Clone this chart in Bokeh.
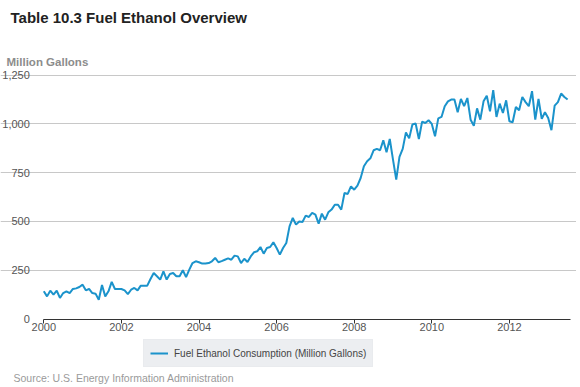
from bokeh.plotting import figure
from bokeh.models import (Range1d, FixedTicker, NumeralTickFormatter, Label,
                          Legend, LegendItem, ColumnDataSource)
from bokeh.embed import file_html
from bokeh.resources import INLINE

# Monthly fuel ethanol consumption (million gallons), Jan 2000 onward
v2000 = [142, 116, 145, 125, 145, 108, 133, 142, 133, 154, 157, 164]
v2001 = [176, 147, 154, 133, 130, 99, 174, 116, 142, 190, 154, 154]
v2002 = [154, 147, 128, 150, 159, 147, 171, 171, 171, 205, 236, 219]
v2003 = [202, 244, 202, 231, 236, 219, 219, 250, 215, 253, 287, 296]
v2004 = [291, 284, 284, 287, 296, 313, 291, 297, 304, 311, 304, 325]
v2005 = [321, 287, 309, 292, 321, 342, 347, 369, 335, 364, 369, 393]
v2006 = [364, 330, 364, 390, 475, 518, 484, 500, 497, 530, 523, 544]
v2007 = [535, 489, 540, 509, 547, 561, 586, 586, 561, 646, 641, 680]
v2008 = [663, 684, 723, 783, 809, 824, 865, 872, 865, 916, 855, 923]
v2009 = [817, 715, 831, 872, 957, 926, 997, 1002, 923, 1012, 1005, 1019]
v2010 = [1000, 937, 1029, 1036, 1091, 1116, 1125, 1125, 1060, 1128, 1091, 1133]
v2011 = [1022, 991, 1080, 1022, 1116, 1145, 1065, 1173, 1036, 1104, 1056, 1121]
v2012 = [1014, 1009, 1087, 1070, 1138, 1112, 1091, 1168, 1022, 1128, 1026, 1060]
v2013 = [1031, 968, 1094, 1112, 1156, 1138, 1125]

start_year = 2000
x_ticks = [2000, 2002, 2004, 2006, 2008, 2010, 2012]
y_ticks = [0, 250, 500, 750, 1000, 1250]

title_text = "Table 10.3 Fuel Ethanol Overview"
y_title = "Million Gallons"
series_name = "Fuel Ethanol Consumption (Million Gallons)"
source_text = "Source: U.S. Energy Information Administration"

values = (v2000 + v2001 + v2002 + v2003 + v2004 + v2005 + v2006 + v2007 +
          v2008 + v2009 + v2010 + v2011 + v2012 + v2013)
dates = [start_year + i / 12 for i in range(len(values))]
src = ColumnDataSource(dict(x=dates, y=values))

# ---- layout in pixels; the plot frame covers the whole canvas so that the
# texts and the legend around the chart area are not clipped
W, H = 576, 385
AX_LEFT, AX_RIGHT = 43.3, 570      # x pixel of the first year / axis end
Y_TOP_PX, Y_ZERO_PX = 74.7, 318.5  # y pixel of the top tick / of zero

x0 = x_ticks[0]
px_per_year = 38.8
x_lo = x0 - AX_LEFT / px_per_year
x_hi = x0 + (W - AX_LEFT) / px_per_year
x_axis_end = x0 + (AX_RIGHT - AX_LEFT) / px_per_year
y_max_tick = y_ticks[-1]
px_per_unit = (Y_ZERO_PX - Y_TOP_PX) / y_max_tick
y_hi = y_max_tick + Y_TOP_PX / px_per_unit
y_lo = -(H - Y_ZERO_PX) / px_per_unit

FONT = "Liberation Sans"
p = figure(width=W, height=H, output_backend="svg", toolbar_location=None,
           x_range=Range1d(x_lo, x_hi), y_range=Range1d(y_lo, y_hi),
           min_border=0, min_border_left=0, min_border_right=0,
           min_border_top=0, min_border_bottom=0)
p.outline_line_color = None
p.background_fill_color = "white"
p.border_fill_color = "white"

r = p.line("x", "y", source=src, line_color="#1b93cb", line_width=2)

# x axis, drawn at zero
p.xaxis.fixed_location = 0
p.xaxis.bounds = (x0, x_axis_end)
p.xaxis.ticker = FixedTicker(ticks=x_ticks)
p.xaxis.axis_line_color = "#333333"
p.xaxis.axis_line_width = 1
p.xaxis.major_tick_in = 0
p.xaxis.major_tick_out = 4
p.xaxis.major_tick_line_color = "#333333"
p.xaxis.minor_tick_line_color = None
p.xaxis.major_label_standoff = 0
p.xaxis.major_label_text_font = FONT
p.xaxis.major_label_text_font_size = "11px"
p.xaxis.major_label_text_color = "#555555"

# y axis, drawn at the first year
p.yaxis.fixed_location = x0
p.yaxis.bounds = (0, y_max_tick)
p.yaxis.ticker = FixedTicker(ticks=y_ticks)
p.yaxis.formatter = NumeralTickFormatter(format="0,0")
p.yaxis.axis_line_color = None
p.yaxis.major_tick_line_color = None
p.yaxis.minor_tick_line_color = None
p.yaxis.major_label_standoff = 8
p.yaxis.major_label_text_font = FONT
p.yaxis.major_label_text_font_size = "11px"
p.yaxis.major_label_text_color = "#555555"

p.xgrid.grid_line_color = None
p.ygrid.ticker = FixedTicker(ticks=y_ticks[1:])
p.ygrid.bounds = (x0, x_axis_end)
p.ygrid.grid_line_color = "#c8c8c8"
p.ygrid.grid_line_width = 1

# legend under the x axis (screen offsets from the canvas bottom-left);
# the padding only applies when the legend has a border line
legend = Legend(items=[LegendItem(label=series_name, renderers=[r])],
                location=(143, 18), orientation="horizontal",
                background_fill_color="#eceef1", background_fill_alpha=1,
                border_line_color="#e6e8eb", border_line_width=1,
                label_text_font=FONT, label_text_font_size="10px",
                label_text_color="#444444", label_height=14,
                glyph_width=18, glyph_height=14, label_standoff=6,
                padding=6, margin=0)
p.add_layout(legend, "center")

# texts (screen units: from the canvas bottom-left, y upward)
p.add_layout(Label(x=10, y=H - 17, x_units="screen", y_units="screen",
                   text=title_text, text_font=FONT, text_font_size="15px",
                   text_font_style="bold", text_color="#222222",
                   text_baseline="middle"))
p.add_layout(Label(x=6, y=H - 61, x_units="screen", y_units="screen",
                   text=y_title, text_font=FONT, text_font_size="11.5px",
                   text_font_style="bold", text_color="#8c8c8c",
                   text_baseline="middle"))
p.add_layout(Label(x=13, y=8, x_units="screen", y_units="screen",
                   text=source_text, text_font=FONT, text_font_size="10.5px",
                   text_color="#9a9a9a", text_baseline="middle"))

open("out.html", "w").write(file_html(p, INLINE))
